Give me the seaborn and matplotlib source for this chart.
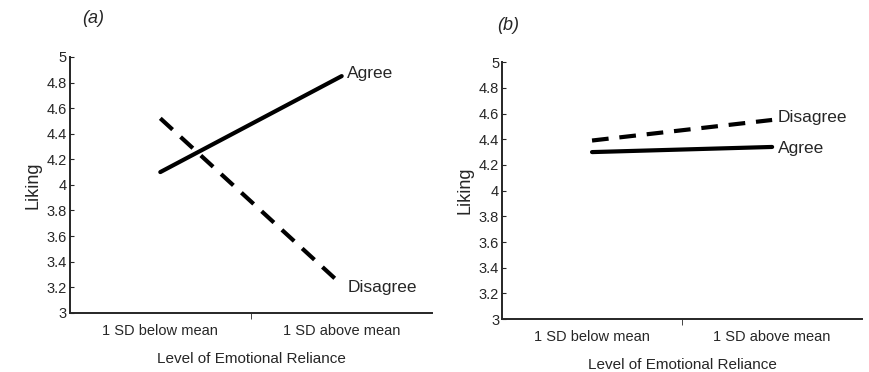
import pandas as pd
import matplotlib.pyplot as plt
import seaborn as sns

# data
levels = ["1 SD below mean", "1 SD above mean"]
agree_a = [4.10, 4.85]
disagree_a = [4.52, 3.22]
agree_b = [4.30, 4.34]
disagree_b = [4.39, 4.55]

sns.set_style("ticks")
plt.rcParams['font.family'] = ['Liberation Sans', 'DejaVu Sans']

fig = plt.figure(figsize=(8.7, 3.72), dpi=100)
ax_a = fig.add_axes([0.080, 0.159, 0.417, 0.688])
ax_b = fig.add_axes([0.577, 0.142, 0.414, 0.691])


def panel(ax, agree, disagree, lbl_offsets):
    df = pd.DataFrame({
        "level": list(range(len(levels))) * 2,
        "liking": agree + disagree,
        "group": ["Agree"] * len(levels) + ["Disagree"] * len(levels),
    })
    sns.lineplot(data=df, x="level", y="liking", style="group",
                 dashes={"Agree": "", "Disagree": (4, 2.6)},
                 color="black", linewidth=3, legend=False, ax=ax)
    ax.set_xlim(-0.5, 1.5)
    ax.set_ylim(3, 5)
    ax.set_yticks([3, 3.2, 3.4, 3.6, 3.8, 4, 4.2, 4.4, 4.6, 4.8, 5])
    ax.set_yticklabels(["3", "3.2", "3.4", "3.6", "3.8", "4", "4.2", "4.4",
                        "4.6", "4.8", "5"])
    ax.set_xticks([0, 1])
    ax.set_xticklabels(levels)
    ax.set_xticks([0.5], minor=True)
    ax.tick_params(axis="x", which="major", length=0, labelsize=10.5, pad=8)
    ax.tick_params(axis="x", which="minor", length=4, direction="out")
    ax.tick_params(axis="y", length=3, direction="in", labelsize=10.5, pad=2)
    ax.set_xlabel("Level of Emotional Reliance", fontsize=11, labelpad=10)
    ax.set_ylabel("Liking", fontsize=13, labelpad=4)
    sns.despine(ax=ax)
    for side in ["left", "bottom"]:
        ax.spines[side].set_linewidth(1.4)
    ax.text(1.03, agree[-1] + lbl_offsets[0], "Agree", fontsize=12.5, va="center")
    ax.text(1.03, disagree[-1] + lbl_offsets[1], "Disagree", fontsize=12.5, va="center")


panel(ax_a, agree_a, disagree_a, (0.02, -0.02))
panel(ax_b, agree_b, disagree_b, (-0.01, 0.02))

fig.text(0.094, 0.95, "(a)", fontsize=13, style="italic", va="center")
fig.text(0.572, 0.932, "(b)", fontsize=13, style="italic", va="center")

fig.savefig("out.png", dpi=100)
